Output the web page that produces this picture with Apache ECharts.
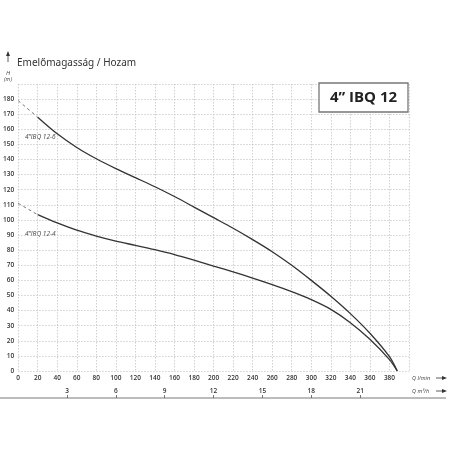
<!DOCTYPE html>
<html>
<head>
<meta charset="utf-8">
<script src="https://cdn.jsdelivr.net/npm/echarts@6/dist/echarts.min.js"></script>
<style>
html,body{margin:0;padding:0;background:#fff;}
#chart{width:456px;height:456px;}
</style>
</head>
<body>
<div id="chart"></div>
<script>
// Flow in l/min, head in m
const flowLpm = [20,40,60,80,100,120,140,160,180,200,220,240,260,280,300,320,340,360,380,388];
const head126 = [168,157,148,140.5,134,128,122,115.5,108.5,101.5,94.5,87,79,70,60,49.5,38,25,9.5,0];
const head124 = [103.5,98,93.2,89.3,86,83.2,80.3,77.1,73.4,69.5,65.6,61.5,57.2,52.5,47.2,40.8,32,21,7.5,0];
const dashFlow = [0,20];
const dash126 = [179,168];
const dash124 = [111,103.5];
const m3hTicks = [3,6,9,12,15,18,21];
const titleText = 'Emelőmagasság / Hozam';
const boxText = '4” IBQ 12';
const name126 = '4”IBQ 12-6';
const name124 = '4”IBQ 12-4';

const pairs = (xs, ys) => xs.map((x, i) => [x, ys[i]]);

const chart = echarts.init(document.getElementById('chart'), null, {renderer: 'canvas'});
const lab = {color: '#333', fontSize: 6.5, fontWeight: 600, fontFamily: 'Open Sans'};
const solid = {color: '#333', width: 1.3};
const dashed = {color: '#666', width: 0.9, type: [3, 3]};

chart.setOption({
  animation: false,
  backgroundColor: '#fff',
  grid: {left: 17, right: 47, top: 84, bottom: 85},
  xAxis: [{
    type: 'value', min: 0, max: 400, interval: 20,
    axisLine: {show: false}, axisTick: {show: false},
    axisLabel: Object.assign({margin: 4, formatter: v => v === 400 ? '' : v}, lab),
    splitLine: {show: true, lineStyle: {color: '#c4c4c4', width: 0.8, type: [1.5, 1.5]}}
  }, {
    type: 'value', min: 0, max: 24, position: 'bottom', offset: 27,
    axisLine: {show: false},
    axisTick: {show: true, inside: true, length: 3, customValues: m3hTicks, lineStyle: {color: '#555', width: 0.8}},
    axisLabel: Object.assign({inside: true, margin: 3, customValues: m3hTicks}, lab),
    splitLine: {show: false}
  }],
  yAxis: {
    type: 'value', min: 0, max: 190, interval: 10,
    axisLine: {show: false}, axisTick: {show: false},
    axisLabel: Object.assign({margin: 4, formatter: v => v === 190 ? '' : v}, lab),
    splitLine: {show: true, lineStyle: {color: '#c4c4c4', width: 0.8, type: [1.5, 1.5]}}
  },
  series: [
    {type: 'line', data: pairs(flowLpm, head126), smooth: 0.3, symbol: 'none', lineStyle: solid, z: 3},
    {type: 'line', data: pairs(flowLpm, head124), smooth: 0.3, symbol: 'none', lineStyle: solid, z: 3},
    {type: 'line', data: pairs(dashFlow, dash126), symbol: 'none', lineStyle: dashed},
    {type: 'line', data: pairs(dashFlow, dash124), symbol: 'none', lineStyle: dashed}
  ],
  graphic: [
    {type: 'text', left: 17, top: 58.5, style: {text: titleText, fontSize: 10, fontFamily: 'Noto Sans', fill: '#333'}},
    {type: 'line', shape: {x1: 8, y1: 62, x2: 8, y2: 54}, style: {stroke: '#333', lineWidth: 0.8}},
    {type: 'polygon', shape: {points: [[6, 56], [10, 56], [8, 51]]}, style: {fill: '#333'}},
    {type: 'text', x: 8, y: 73, style: {text: 'H', fontSize: 6, fontStyle: 'italic', fontFamily: 'Open Sans', fill: '#444', align: 'center', verticalAlign: 'middle'}},
    {type: 'text', x: 8, y: 79.5, style: {text: '(m)', fontSize: 5.5, fontStyle: 'italic', fontFamily: 'Open Sans', fill: '#444', align: 'center', verticalAlign: 'middle'}},
    {type: 'rect', shape: {x: 319, y: 83, width: 89, height: 29}, style: {fill: '#fff', stroke: '#777', lineWidth: 1.3}, z: 10},
    {type: 'text', x: 363.5, y: 98, z: 11, style: {text: boxText, fontSize: 15, fontWeight: 'bold', fontFamily: 'Open Sans', fill: '#222', align: 'center', verticalAlign: 'middle'}},
    {type: 'text', x: 25, y: 137, style: {text: name126, fontSize: 6.5, fontStyle: 'italic', fontFamily: 'Open Sans', fill: '#444', verticalAlign: 'middle'}},
    {type: 'text', x: 25, y: 234.5, style: {text: name124, fontSize: 6.5, fontStyle: 'italic', fontFamily: 'Open Sans', fill: '#444', verticalAlign: 'middle'}},
    {type: 'line', shape: {x1: 0, y1: 398, x2: 446, y2: 398}, style: {stroke: '#555', lineWidth: 0.8}},
    {type: 'text', x: 412, y: 378, style: {text: 'Q l/min', fontSize: 5.5, fontStyle: 'italic', fontFamily: 'Open Sans', fill: '#444', verticalAlign: 'middle'}},
    {type: 'text', x: 412, y: 391, style: {text: 'Q m³/h', fontSize: 5.5, fontStyle: 'italic', fontFamily: 'Open Sans', fill: '#444', verticalAlign: 'middle'}},
    {type: 'line', shape: {x1: 436, y1: 378, x2: 444, y2: 378}, style: {stroke: '#333', lineWidth: 0.8}},
    {type: 'polygon', shape: {points: [[442, 376], [442, 380], [447, 378]]}, style: {fill: '#333'}},
    {type: 'line', shape: {x1: 436, y1: 391, x2: 444, y2: 391}, style: {stroke: '#333', lineWidth: 0.8}},
    {type: 'polygon', shape: {points: [[442, 389], [442, 393], [447, 391]]}, style: {fill: '#333'}}
  ]
});
</script>
</body>
</html>
